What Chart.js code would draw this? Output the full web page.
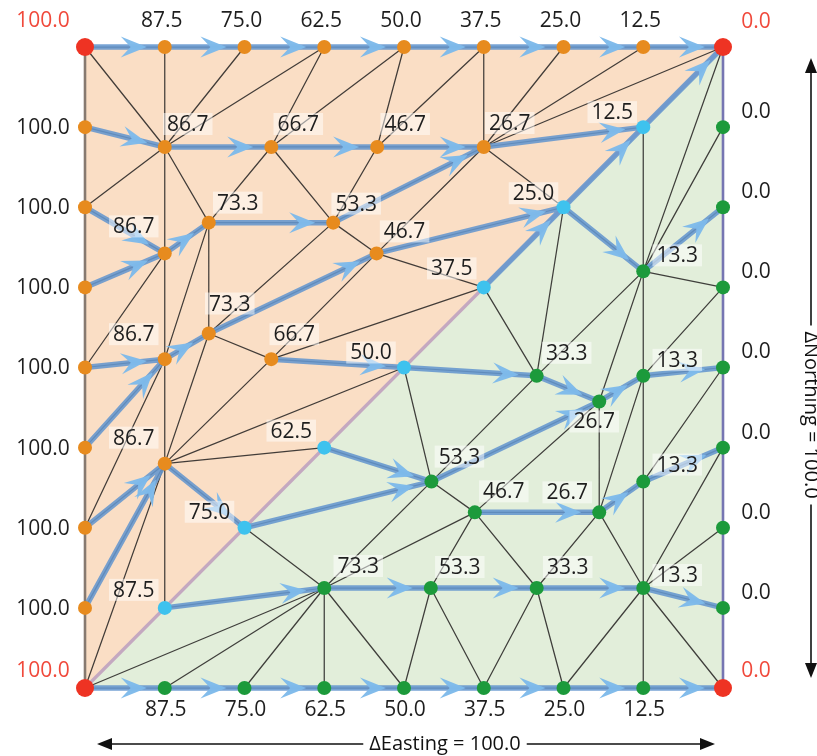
<!DOCTYPE html>
<html>
<head>
<meta charset="utf-8">
<script src="https://cdn.jsdelivr.net/npm/chart.js@4.4.1/dist/chart.umd.min.js"></script>
<style>
html,body{margin:0;padding:0;background:#ffffff;}
canvas{display:block;}
</style>
</head>
<body>
<canvas id="c" width="817" height="756"></canvas>
<script>
// ---------------- DATA ----------------
const nodeIds = ['TL','T1','T2','T3','T4','T5','T6','T7','TR',
  'L1','L2','L3','L4','L5','L6','L7','BL',
  'R1','R2','R3','R4','R5','R6','R7','BR',
  'B1','B2','B3','B4','B5','B6','B7',
  'D1','D2','D3','D4','D5','D6','D7',
  'oA1','oA2','oA3','oA4','oB1','oB2','oC1','oC2','oD1','oE1','oE2','oF1',
  'gA1','gA2','gA3','gA4','gB1','gB2','gC1','gC2','gD1','gE1','gE2','gF1'];
const nodeEasting = [0,12.5,25,37.5,50,62.5,75,87.5,100,
  0,0,0,0,0,0,0,0,
  100,100,100,100,100,100,100,100,
  12.5,25,37.5,50,62.5,75,87.5,
  12.5,25,37.5,50,62.5,75,87.5,
  12.5,29.2,45.8,62.5,19.4,38.9,12.5,45.7,19.4,12.5,29.2,12.5,
  87.5,70.8,54.2,37.5,80.6,61.1,87.5,54.3,80.6,87.5,70.8,87.5];
const nodeNorthing = [100,100,100,100,100,100,100,100,100,
  87.5,75,62.5,50,37.5,25,12.5,0,
  87.5,75,62.5,50,37.5,25,12.5,0,
  0,0,0,0,0,0,0,
  12.5,25,37.5,50,62.5,75,87.5,
  84.4,84.4,84.4,84.4,72.6,72.6,67.8,67.8,55.3,51.3,51.3,35.0,
  15.6,15.6,15.6,15.6,27.4,27.4,32.2,32.2,44.7,48.7,48.7,65.0];
const nodeValues = [100.0,87.5,75.0,62.5,50.0,37.5,25.0,12.5,0.0,
  100.0,100.0,100.0,100.0,100.0,100.0,100.0,100.0,
  0.0,0.0,0.0,0.0,0.0,0.0,0.0,0.0,
  87.5,75.0,62.5,50.0,37.5,25.0,12.5,
  87.5,75.0,62.5,50.0,37.5,25.0,12.5,
  86.7,66.7,46.7,26.7,73.3,53.3,86.7,46.7,73.3,86.7,66.7,86.7,
  13.3,33.3,53.3,73.3,26.7,46.7,13.3,53.3,26.7,13.3,33.3,13.3];
const nodeGroups = ['corner','upper','upper','upper','upper','upper','upper','upper','corner',
  'upper','upper','upper','upper','upper','upper','upper','corner',
  'lower','lower','lower','lower','lower','lower','lower','corner',
  'lower','lower','lower','lower','lower','lower','lower',
  'divide','divide','divide','divide','divide','divide','divide',
  'upper','upper','upper','upper','upper','upper','upper','upper','upper','upper','upper','upper',
  'lower','lower','lower','lower','lower','lower','lower','lower','lower','lower','lower','lower'];

const meshEdges = [
  'TL-oA1','T1-oA1','T2-oA1','T3-oA1','T3-oA2','T4-oA2','T4-oA3','T5-oA3','T5-oA4','T6-oA4','T7-oA4','TR-oA4',
  'L1-oA1','L2-oA1','L2-oC1','L3-oC1','L4-oC1','L4-oE1','L5-oE1','L6-oE1','L6-oF1','L7-oF1','BL-oF1',
  'oA1-oA2','oA2-oA3','oA3-oA4','oA1-oB1','oA1-oC1','oA2-oB1','oA2-oB2','oA3-oB2','oB1-oB2','oC1-oB1',
  'oB2-oA4','oA4-oC2','oA4-D6','oA4-D7','oB2-oC2','oB2-oD1','oB1-oD1','oB1-oE1','oC1-oE1','oE1-oD1',
  'oD1-oC2','oD1-oE2','oE2-oC2','oC2-D6','oC2-D5','oE2-D5','oE2-D4','oE1-oF1','oF1-oD1','oF1-oE2',
  'oF1-D4','oF1-D3','oF1-D2','oF1-D1',
  'BR-gA1','B7-gA1','B6-gA1','B6-gA2','B5-gA2','B5-gA3','B4-gA3','B4-gA4','B3-gA4','B2-gA4','B1-gA4','BL-gA4',
  'R7-gA1','R6-gA1','R5-gA1','R5-gC1','R4-gC1','R4-gE1','R3-gE1','R3-gF1','R2-gF1','R1-gF1','TR-gF1',
  'gA1-gA2','gA2-gA3','gA3-gA4','gA1-gB1','gA1-gC1','gA2-gB1','gA2-gB2','gA3-gB2','gB1-gB2','gC1-gB1',
  'gB2-gA4','gA4-gC2','gA4-D2','gA4-D1','gB2-gC2','gB2-gD1','gB1-gD1','gB1-gE1','gC1-gE1','gE1-gD1',
  'gD1-gC2','gD1-gE2','gE2-gC2','gC2-D2','gC2-D3','gC2-D4','gE2-D4','gE2-D5','gE2-D6','gE1-gF1',
  'gF1-gD1','gF1-gE2','gF1-D6','gF1-D7',
  'TL-T1','T1-T2','T2-T3','T3-T4','T4-T5','T5-T6','T6-T7','T7-TR',
  'BL-B1','B1-B2','B2-B3','B3-B4','B4-B5','B5-B6','B6-B7','B7-BR'
];

const flowArrows = [
  'TL-T1','T1-T2','T2-T3','T3-T4','T4-T5','T5-T6','T6-T7','T7-TR',
  'BL-B1','B1-B2','B2-B3','B3-B4','B4-B5','B5-B6','B6-B7','B7-BR',
  'L1-oA1','oA1-oA2','oA2-oA3','oA3-oA4','oA4-D7','D7-TR',
  'L2-oC1','L3-oC1','oC1-oB1','oB1-oB2','oB2-oA4',
  'L4-oE1','L5-oE1','oE1-oD1','oD1-oC2','oC2-D6','D5-D6','D6-D7',
  'L6-oF1','L7-oF1','oF1-D2','oE2-D4',
  'D1-gA4','gA4-gA3','gA3-gA2','gA2-gA1','gA1-R7',
  'D2-gC2','D3-gC2','gC2-gD1','D4-gE2','gE2-gD1','gD1-gE1','gE1-R4',
  'gB2-gB1','gB1-gC1','gC1-R5',
  'D6-gF1','gF1-R2'
];

const leftBoundary = ['TL','BL'];
const rightBoundary = ['TR','BR'];
const divideLine = ['BL','TR'];

const axisTitleX = 'ΔEasting = 100.0';
const axisTitleY = 'ΔNorthing = 100.0';

// label placement (pixel offsets from node centre) - layout only
const labelOffsets = {
  TL:[-42,-27], TR:[33,-26], BL:[-42,-18], BR:[33,-18],
  oA1:[23,-23], oA2:[27,-23], oA3:[28,-23], oA4:[26,-24],
  oB1:[29,-20], oB2:[23,-19], oC1:[-31,-27], oC2:[28,-22],
  oD1:[21,-30], oE1:[-31,-25], oE2:[23,-25], oF1:[-31,-26],
  D1:[-31,-18], D2:[-35,-16], D3:[-33,-17], D4:[-33,-15], D5:[-32,-19], D6:[-30,-14], D7:[-31,-15],
  gA1:[34,-13], gA2:[31,-21], gA3:[29,-21], gA4:[34,-22],
  gB1:[-32,-20], gB2:[29,-21], gC1:[34,-17], gC2:[28,-25],
  gD1:[-5,20], gE1:[34,-16], gE2:[30,-23], gF1:[34,-16]
};
function sideOffset(id){
  if (labelOffsets[id]) return labelOffsets[id];
  if (id[0]==='T') return [-3,-27];
  if (id[0]==='B') return [1,21];
  if (id[0]==='L') return [-42,0];
  if (id[0]==='R') return [33,-16];
  return [0,-20];
}

// ---------------- HELPERS ----------------
const idx = {};
nodeIds.forEach((id,i)=>{ idx[id]=i; });
const pt = id => ({x: nodeEasting[idx[id]], y: nodeNorthing[idx[id]]});
const segData = list => list.flatMap(s => { const [a,b]=s.split('-'); return [pt(a), pt(b), {x:null,y:null}]; });
const groupPoints = g => nodeIds.filter((id,i)=>nodeGroups[i]===g).map(pt);

const COLORS = {
  upperFill:'rgb(250,222,197)', lowerFill:'rgb(226,238,218)',
  upper:'#e78b1e', lower:'#1c9a3b', divide:'#3ec2ee', corner:'#ee3323',
  edge:'rgba(40,38,36,0.88)', flow:'rgba(100,150,206,0.88)', head:'rgba(126,186,234,0.97)'
};

// ---------------- PLUGINS ----------------
const arrowHeads = {
  id:'arrowHeads',
  afterDatasetDraw(chart, args){
    if (chart.data.datasets[args.index].label !== 'flow') return;
    const {ctx} = chart; const xs = chart.scales.x, ys = chart.scales.y;
    ctx.save();
    flowArrows.forEach(s=>{
      const [a,b] = s.split('-');
      const x1 = xs.getPixelForValue(pt(a).x), y1 = ys.getPixelForValue(pt(a).y);
      const x2 = xs.getPixelForValue(pt(b).x), y2 = ys.getPixelForValue(pt(b).y);
      const dx=x2-x1, dy=y2-y1, len=Math.hypot(dx,dy);
      const d = Math.max(len*0.55, len-18);
      const tx = x1+dx/len*d, ty = y1+dy/len*d;
      const L=26, W=10.5;
      ctx.save();
      ctx.translate(tx,ty); ctx.rotate(Math.atan2(dy,dx));
      ctx.beginPath();
      ctx.moveTo(0,0); ctx.lineTo(-L,-W); ctx.lineTo(-L*0.62,0); ctx.lineTo(-L,W); ctx.closePath();
      ctx.fillStyle = COLORS.head; ctx.fill();
      ctx.restore();
    });
    ctx.restore();
  }
};

const nodeLabels = {
  id:'nodeLabels',
  afterDatasetsDraw(chart){
    const {ctx} = chart; const xs = chart.scales.x, ys = chart.scales.y;
    ctx.save();
    ctx.font = '21px "Open Sans", "Noto Sans", sans-serif';
    ctx.textAlign = 'center'; ctx.textBaseline = 'middle';
    nodeIds.forEach((id,i)=>{
      const px = xs.getPixelForValue(nodeEasting[i]), py = ys.getPixelForValue(nodeNorthing[i]);
      const [ox,oy] = sideOffset(id);
      const txt = nodeValues[i].toFixed(1);
      const w = ctx.measureText(txt).width;
      const cx = px+ox, cy = py+oy;
      if (nodeGroups[i] !== 'corner') {
        ctx.fillStyle = 'rgba(255,255,255,0.5)';
        ctx.fillRect(cx-w/2-4, cy-11, w+8, 22);
      }
      ctx.fillStyle = nodeGroups[i]==='corner' ? '#f0493b' : '#1e1e1e';
      ctx.fillText(txt, cx, cy+1);
    });
    ctx.restore();
  },
  afterDraw(chart){
    const {ctx} = chart; const xs = chart.scales.x, ys = chart.scales.y;
    ctx.save();
    ctx.font = '20px "Open Sans", "Noto Sans", sans-serif';
    ctx.fillStyle = '#111'; ctx.strokeStyle = '#111'; ctx.lineWidth = 1.6;
    ctx.textAlign = 'center'; ctx.textBaseline = 'middle';
    const head = (x,y,ang)=>{
      ctx.save(); ctx.translate(x,y); ctx.rotate(ang);
      ctx.beginPath(); ctx.moveTo(0,0); ctx.lineTo(-15,-6); ctx.lineTo(-15,6); ctx.closePath(); ctx.fill();
      ctx.restore();
    };
    const left = xs.getPixelForValue(0)+12, right = xs.getPixelForValue(100)-8;
    const by = ys.getPixelForValue(0)+56;
    const bx = 445;
    const wx = ctx.measureText(axisTitleX).width;
    ctx.fillText(axisTitleX, bx, by);
    ctx.beginPath();
    ctx.moveTo(left+8, by); ctx.lineTo(bx-wx/2-6, by);
    ctx.moveTo(bx+wx/2+6, by); ctx.lineTo(right-8, by);
    ctx.stroke();
    head(left, by, Math.PI); head(right, by, 0);
    const top = ys.getPixelForValue(100)+11, bot = ys.getPixelForValue(0)-10;
    const vx = xs.getPixelForValue(100)+88;
    const vy = 415;
    const wy = ctx.measureText(axisTitleY).width;
    ctx.save(); ctx.translate(vx, vy); ctx.rotate(Math.PI/2); ctx.fillText(axisTitleY, 0, 0); ctx.restore();
    ctx.beginPath();
    ctx.moveTo(vx, top+8); ctx.lineTo(vx, vy-wy/2-6);
    ctx.moveTo(vx, vy+wy/2+6); ctx.lineTo(vx, bot-8);
    ctx.stroke();
    head(vx, top, -Math.PI/2); head(vx, bot, Math.PI/2);
    ctx.restore();
  }
};

// ---------------- CHART ----------------
const lineDs = (label, data, color, width, order) => ({
  type:'line', label, data, borderColor: color, borderWidth: width, pointRadius: 0,
  fill: false, spanGaps: false, tension: 0, clip: false, order, borderCapStyle:'butt'
});

new Chart(document.getElementById('c'), {
  type:'scatter',
  data:{
    datasets:[
      { type:'line', label:'upperFill', data:[pt(divideLine[0]), pt(divideLine[1])], fill:'end',
        backgroundColor: COLORS.upperFill, borderWidth:0, pointRadius:0, clip:false, order:10 },
      { type:'line', label:'lowerFill', data:[pt(divideLine[0]), pt(divideLine[1])], fill:'origin',
        backgroundColor: COLORS.lowerFill, borderWidth:0, pointRadius:0, clip:false, order:9 },
      lineDs('edges', segData(meshEdges), COLORS.edge, 1.25, 8),
      lineDs('left', leftBoundary.map(pt), 'rgb(135,122,112)', 2.6, 7),
      lineDs('right', rightBoundary.map(pt), 'rgb(118,118,178)', 2.6, 7),
      lineDs('divide', divideLine.map(pt), 'rgb(196,168,192)', 3.2, 7),
      lineDs('flow', segData(flowArrows), COLORS.flow, 5.5, 5),
      { label:'upperNodes', data: groupPoints('upper'), backgroundColor: COLORS.upper, pointRadius:7, borderWidth:0, clip:false, order:1 },
      { label:'lowerNodes', data: groupPoints('lower'), backgroundColor: COLORS.lower, pointRadius:7, borderWidth:0, clip:false, order:1 },
      { label:'divideNodes', data: groupPoints('divide'), backgroundColor: COLORS.divide, pointRadius:7, borderWidth:0, clip:false, order:1 },
      { label:'cornerNodes', data: groupPoints('corner'), backgroundColor: COLORS.corner, pointRadius:9, borderWidth:0, clip:false, order:1 }
    ]
  },
  options:{
    responsive:false, animation:false, devicePixelRatio:1,
    layout:{ padding:{ left:85, right:94, top:47, bottom:68 } },
    scales:{
      x:{ type:'linear', min:0, max:100, display:false },
      y:{ type:'linear', min:0, max:100, display:false }
    },
    plugins:{ legend:{display:false}, tooltip:{enabled:false}, filler:{propagate:false} },
    elements:{ point:{ hoverRadius:0 } }
  },
  plugins:[arrowHeads, nodeLabels]
});
</script>
</body>
</html>
